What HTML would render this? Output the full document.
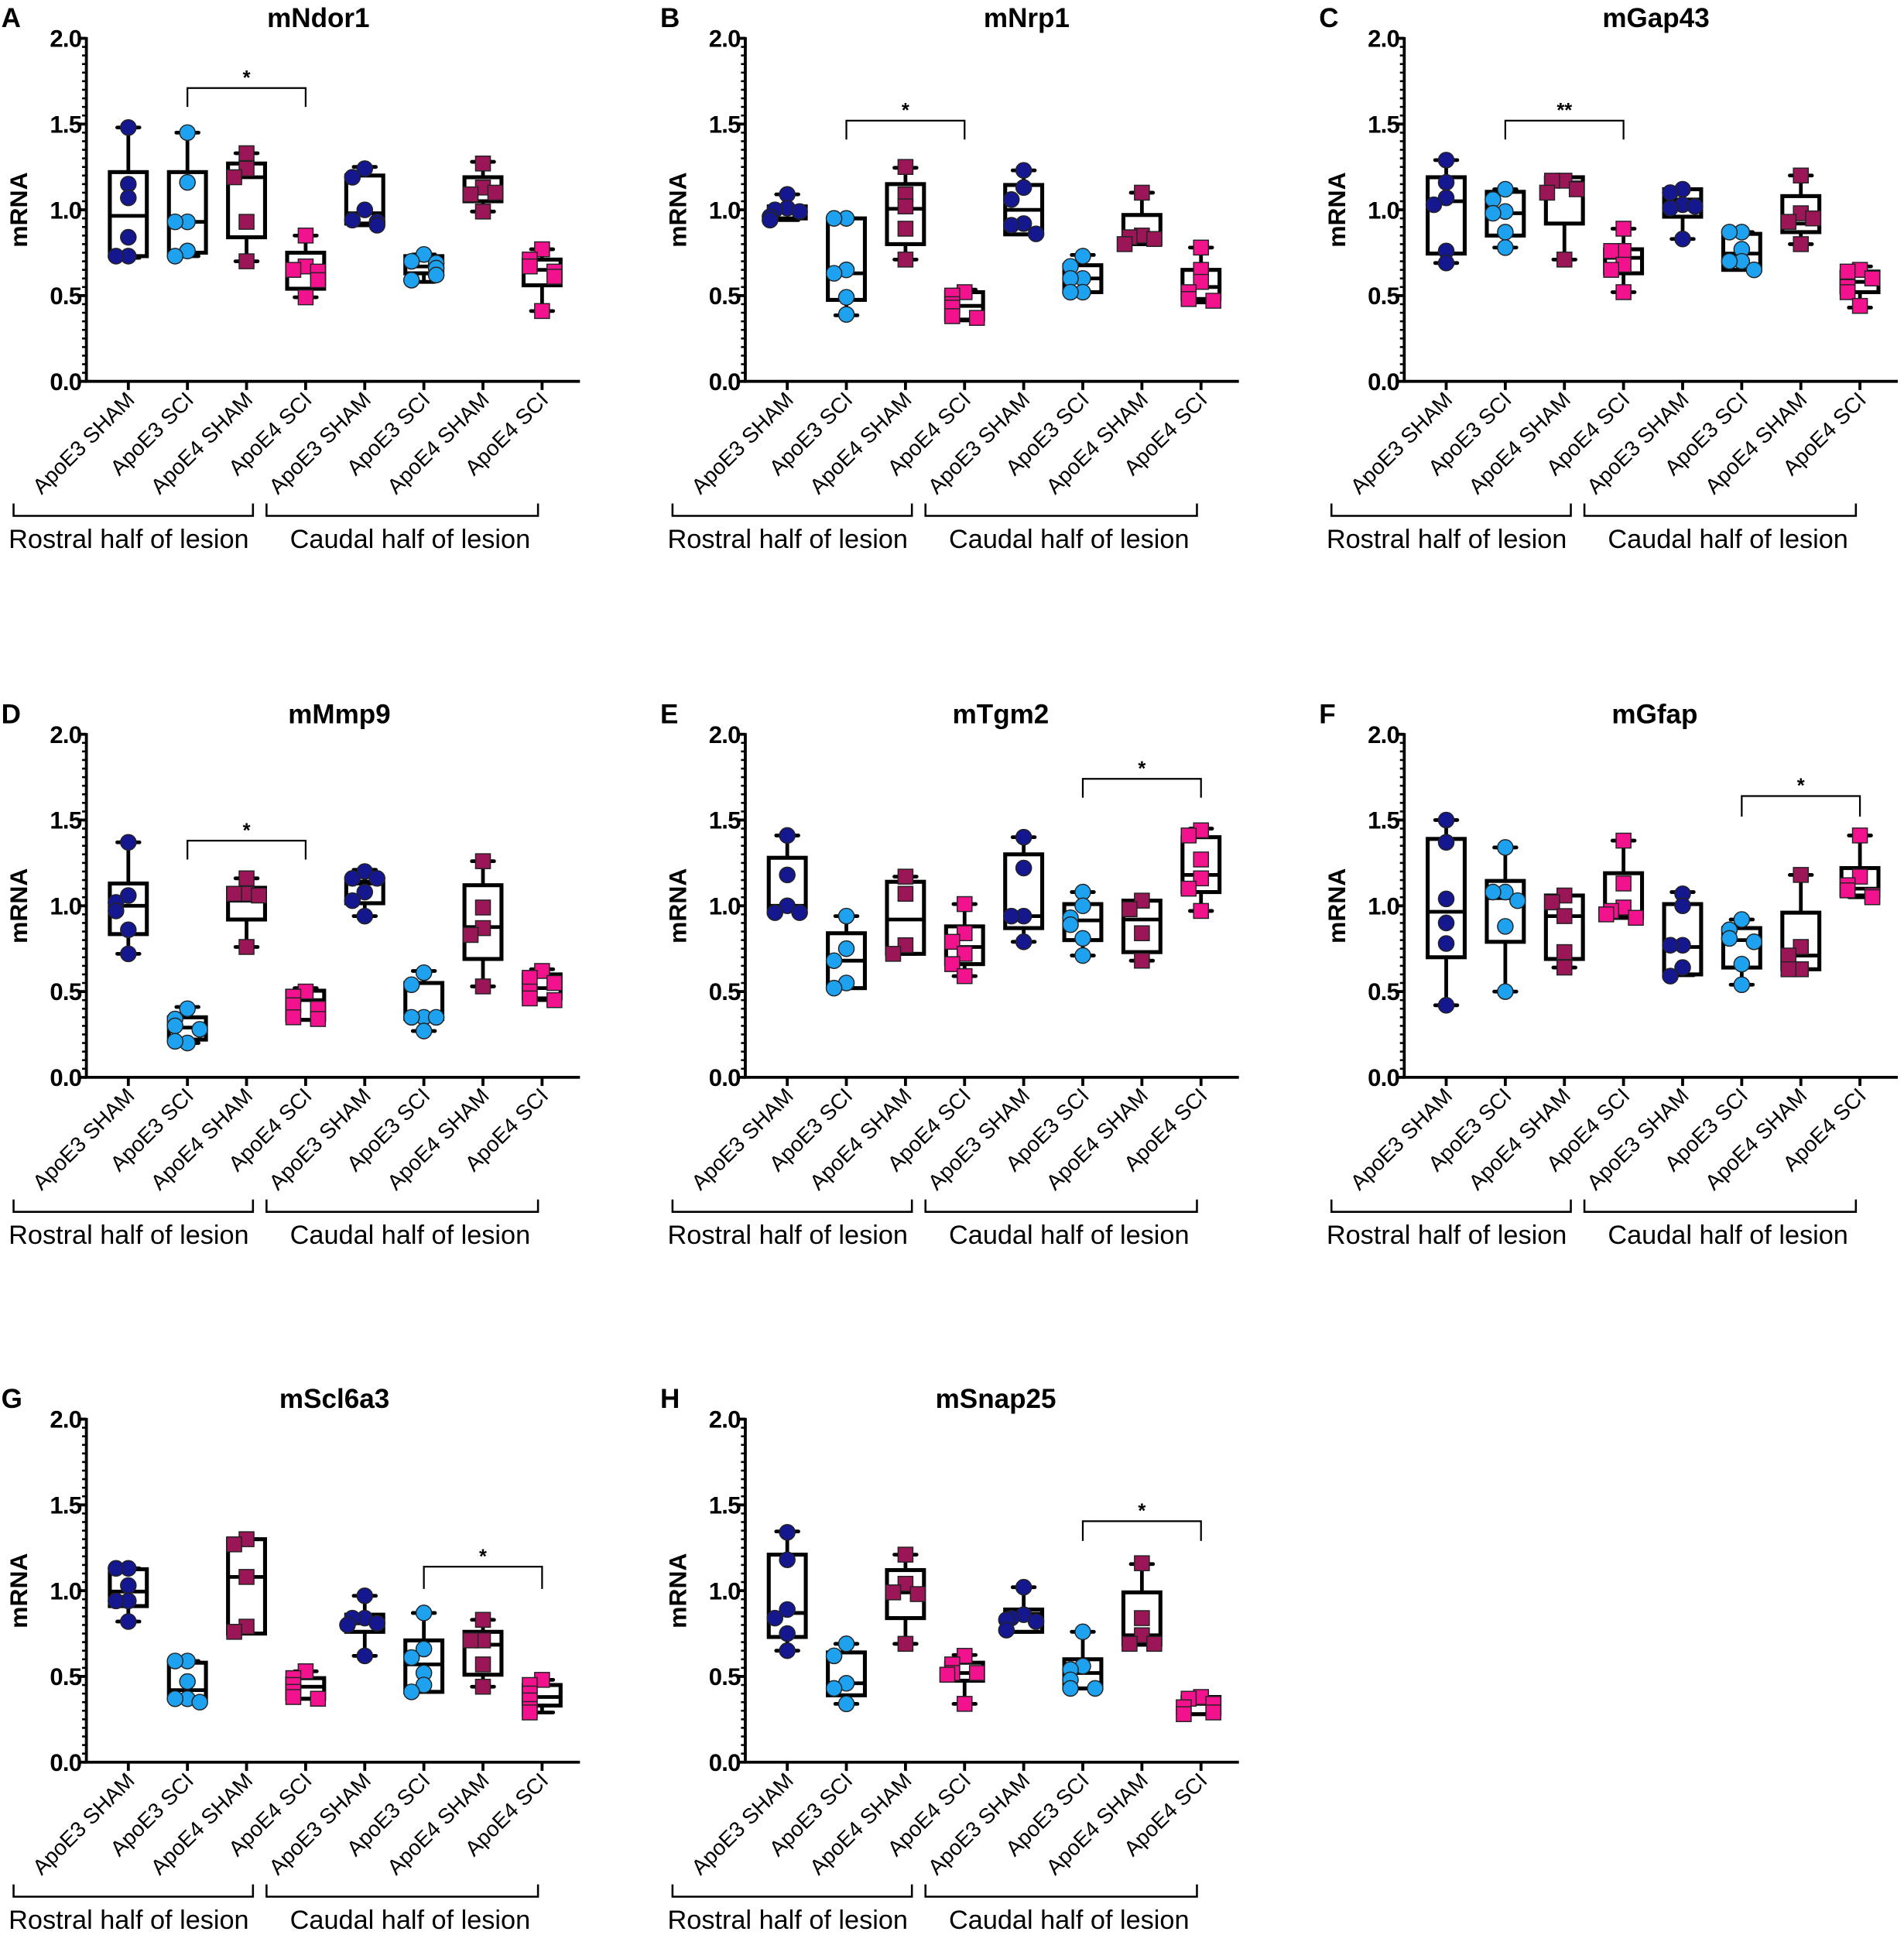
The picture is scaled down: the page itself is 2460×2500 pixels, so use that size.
<!DOCTYPE html>
<html><head><meta charset="utf-8"><style>
html,body{margin:0;padding:0;background:#fff}
svg{display:block}
text{font-family:"Liberation Sans",Arial,sans-serif}
</style></head><body>
<svg id="fig" width="2460" height="2500" viewBox="0 0 1543 1568" xmlns="http://www.w3.org/2000/svg"></svg>
<script>
const categories = ["ApoE3 SHAM","ApoE3 SCI","ApoE4 SHAM","ApoE4 SCI","ApoE3 SHAM","ApoE3 SCI","ApoE4 SHAM","ApoE4 SCI"];
const yTicks = [0,0.5,1.0,1.5,2.0];
const yTickLabels = ["0.0","0.5","1.0","1.5","2.0"];
const panelLetters = ["A","B","C","D","E","F","G","H"];
const panelTitles = ["mNdor1","mNrp1","mGap43","mMmp9","mTgm2","mGfap","mScl6a3","mSnap25"];
// box stats per panel: [min,q1,median,q3,max] for each category
const statsA = [[0.72,0.73,0.965,1.22,1.48],[0.73,0.75,0.93,1.22,1.45],[0.70,0.84,1.19,1.27,1.33],[0.49,0.54,0.65,0.75,0.85],[0.91,0.92,0.98,1.20,1.25],[0.58,0.63,0.67,0.73,0.74],[0.99,1.05,1.10,1.19,1.28],[0.41,0.56,0.65,0.71,0.77]];
const statsB = [[0.94,0.95,0.99,1.02,1.09],[0.385,0.475,0.63,0.95,0.95],[0.71,0.80,1.006,1.15,1.245],[0.355,0.36,0.44,0.52,0.535],[0.857,0.857,1.0,1.145,1.23],[0.52,0.52,0.60,0.677,0.737],[0.80,0.80,0.837,0.97,1.10],[0.46,0.48,0.55,0.65,0.78]];
const statsC = [[0.69,0.745,1.05,1.19,1.29],[0.78,0.85,0.98,1.105,1.12],[0.71,0.92,1.16,1.19,1.19],[0.52,0.63,0.72,0.77,0.89],[0.83,0.96,1.06,1.12,1.12],[0.65,0.65,0.745,0.86,0.87],[0.80,0.87,0.92,1.08,1.20],[0.43,0.52,0.58,0.64,0.67]];
const statsD = [[0.72,0.835,1.00,1.13,1.37],[0.20,0.22,0.29,0.35,0.41],[0.76,0.92,1.03,1.105,1.16],[0.335,0.335,0.45,0.505,0.52],[0.94,1.015,1.13,1.14,1.21],[0.27,0.34,0.34,0.55,0.62],[0.53,0.69,0.876,1.12,1.26],[0.45,0.46,0.52,0.60,0.63]];
const statsE = [[0.97,0.97,1.00,1.28,1.41],[0.52,0.52,0.68,0.84,0.94],[0.72,0.72,0.92,1.14,1.17],[0.59,0.66,0.76,0.88,1.01],[0.79,0.87,0.94,1.30,1.40],[0.71,0.80,0.915,1.01,1.08],[0.68,0.73,0.92,1.03,1.03],[0.97,1.08,1.18,1.40,1.45]];
const statsF = [[0.42,0.70,0.965,1.39,1.50],[0.50,0.79,1.045,1.145,1.34],[0.64,0.69,0.94,1.06,1.06],[0.93,0.93,0.95,1.19,1.38],[0.595,0.60,0.76,1.01,1.08],[0.54,0.64,0.80,0.87,0.92],[0.63,0.63,0.71,0.96,1.18],[1.05,1.06,1.10,1.22,1.41]];
const statsG = [[0.82,0.91,0.995,1.125,1.13],[0.35,0.37,0.42,0.58,0.59],[0.75,0.75,1.08,1.30,1.30],[0.37,0.37,0.44,0.49,0.53],[0.62,0.76,0.81,0.86,0.97],[0.41,0.41,0.57,0.71,0.87],[0.44,0.51,0.685,0.76,0.83],[0.29,0.33,0.38,0.45,0.48]];
const statsH = [[0.65,0.73,0.87,1.21,1.345],[0.34,0.39,0.46,0.64,0.69],[0.69,0.84,0.99,1.12,1.21],[0.34,0.475,0.52,0.58,0.625],[0.76,0.76,0.865,0.89,1.02],[0.43,0.43,0.52,0.60,0.76],[0.685,0.685,0.74,0.99,1.155],[0.28,0.28,0.34,0.38,0.38]];
// individual animal values
const pointsA = [[1.48,1.15,1.07,0.84,0.73,0.73],[1.45,1.16,0.93,0.93,0.76,0.73],[1.33,1.24,1.19,0.93,0.70],[0.85,0.67,0.65,0.64,0.59,0.49],[1.24,1.19,1.00,0.94,0.93,0.91],[0.74,0.70,0.69,0.66,0.62,0.59],[1.27,1.13,1.09,1.10,0.99],[0.77,0.71,0.67,0.64,0.61,0.41]];
const pointsB = [[1.09,1.01,1.00,0.99,0.96,0.94],[0.95,0.95,0.65,0.63,0.49,0.39],[1.25,1.09,1.02,0.89,0.71],[0.52,0.50,0.45,0.43,0.38,0.37],[1.23,1.13,1.06,0.92,0.91,0.86],[0.73,0.67,0.60,0.60,0.52,0.52],[1.10,0.85,0.84,0.83,0.80],[0.78,0.65,0.58,0.52,0.48,0.47]];
const pointsC = [[1.29,1.16,1.07,1.03,0.76,0.69],[1.12,1.06,0.99,0.98,0.87,0.78],[1.17,1.17,1.12,1.10,0.71],[0.89,0.76,0.76,0.68,0.65,0.52],[1.12,1.10,1.03,1.01,1.02,0.83],[0.87,0.87,0.77,0.70,0.70,0.65],[1.20,0.98,0.93,0.95,0.80],[0.65,0.64,0.60,0.55,0.52,0.44]];
const pointsD = [[1.37,1.06,1.02,0.97,0.86,0.72],[0.40,0.34,0.30,0.28,0.20,0.21],[1.16,1.07,1.07,1.06,0.76],[0.50,0.47,0.42,0.40,0.35,0.34],[1.20,1.16,1.16,1.08,1.03,0.94],[0.61,0.54,0.35,0.35,0.35,0.27],[1.26,0.99,0.87,0.83,0.53],[0.62,0.58,0.55,0.50,0.46,0.45]];
const pointsE = [[1.41,1.18,1.00,0.96,0.96],[0.94,0.75,0.68,0.55,0.52],[1.17,1.07,0.77,0.72],[1.01,0.84,0.79,0.72,0.66,0.59],[1.40,1.22,0.94,0.94,0.79],[1.08,1.00,0.93,0.89,0.81,0.71],[1.03,0.98,0.84,0.68],[1.44,1.41,1.27,1.16,1.10,0.97]];
const pointsF = [[1.50,1.37,1.04,0.90,0.78,0.42],[1.34,1.08,1.08,1.03,0.88,0.50],[1.06,1.02,0.94,0.73,0.64],[1.38,1.13,0.99,0.97,0.93,0.95],[1.07,1.00,0.77,0.77,0.64,0.59],[0.92,0.86,0.81,0.79,0.66,0.54],[1.18,0.76,0.71,0.63,0.63],[1.41,1.17,1.12,1.09,1.06,1.05]];
const pointsG = [[1.13,1.13,1.03,0.94,0.94,0.82],[0.59,0.59,0.47,0.37,0.37,0.35],[1.30,1.27,1.08,0.79,0.76],[0.53,0.49,0.45,0.41,0.38,0.37],[0.97,0.84,0.84,0.81,0.80,0.62],[0.87,0.66,0.61,0.52,0.45,0.41],[0.83,0.71,0.71,0.57,0.44],[0.48,0.45,0.40,0.36,0.31,0.29]];
const pointsH = [[1.34,1.18,0.89,0.84,0.75,0.65],[0.69,0.62,0.46,0.43,0.34],[1.21,1.04,0.99,0.98,0.69],[0.62,0.57,0.52,0.52,0.51,0.34],[1.02,0.86,0.84,0.82,0.83,0.77],[0.76,0.56,0.54,0.48,0.43,0.43],[1.16,0.84,0.74,0.69,0.69],[0.38,0.37,0.34,0.32,0.29,0.28]];
// significance: [fromCat, toCat, barValue, legValue, label]
const sigA = [1,3,1.71,1.60,"*"];
const sigB = [1,3,1.52,1.41,"*"];
const sigC = [1,3,1.52,1.41,"**"];
const sigD = [1,3,1.38,1.27,"*"];
const sigE = [5,7,1.74,1.63,"*"];
const sigF = [5,7,1.64,1.52,"*"];
const sigG = [5,7,1.14,1.01,"*"];
const sigH = [5,7,1.405,1.29,"*"];

const allStats=[statsA,statsB,statsC,statsD,statsE,statsF,statsG,statsH];
const allPoints=[pointsA,pointsB,pointsC,pointsD,pointsE,pointsF,pointsG,pointsH];
const allSig=[sigA,sigB,sigC,sigD,sigE,sigF,sigG,sigH];
const fills=["#15178f","#1ea2f0","#9b1656","#f2128e"];
const NS="http://www.w3.org/2000/svg";
const svg=document.getElementById("fig");
function mk(tag,attrs,parent,txt){const e=document.createElementNS(NS,tag);for(const k in attrs)e.setAttribute(k,attrs[k]);if(txt!==undefined)e.textContent=txt;(parent||svg).appendChild(e);return e;}
const colX=[0,534,1068], rowY=[0,564,1119];
const titleX=[258,298,274,275,277,273,271,273];
for(let p=0;p<8;p++){
  const ox=colX[p%3], oy=rowY[Math.floor(p/3)];
  const g=mk("g",{transform:`translate(${ox},${oy})`});
  
  
  const yS=v=>309-v*139;
  const xS=i=>104+47.9*i;
  const L=mk("text",{x:1,y:22,"font-size":22,"font-weight":"bold"},g,panelLetters[p]);
  
  
  const T=mk("text",{x:titleX[p],y:22,"font-size":22,"font-weight":"bold","text-anchor":"middle"},g,panelTitles[p]);
  
  
  const YL=mk("text",{x:0,y:0,"font-size":20,"font-weight":"bold","text-anchor":"middle",transform:`translate(22,170) rotate(-90)`},g,"mRNA");
  
  
  const ax=mk("g",{stroke:"#000","stroke-width":2.4},g);
  
  
  mk("line",{x1:70,y1:yS(2)-1,x2:70,y2:yS(0)+1},ax);
  mk("line",{x1:69,y1:yS(0),x2:470,y2:yS(0)},ax);
  for(let k=0;k<=40;k++){const v=k*0.05;const maj=k%10===0;mk("line",{x1:maj?64:66.5,x2:70,y1:yS(v),y2:yS(v),"stroke-width":maj?2.4:1.6},ax);}
  yTicks.forEach((v,i)=>{const t=mk("text",{x:66,y:yS(v)+7,"font-size":19.5,"font-weight":"bold","text-anchor":"end","letter-spacing":"-0.5"},g,yTickLabels[i]);
    
    });
  categories.forEach((c,i)=>{
    mk("line",{x1:xS(i),x2:xS(i),y1:yS(0),y2:yS(0)+7,stroke:"#000","stroke-width":2.4},g);
    const t=mk("text",{x:0,y:0,"font-size":17.5,"text-anchor":"end",transform:`translate(${xS(i)+6},${yS(0)+16}) rotate(-45)`},g,c);
    
    
  });
  const br=mk("g",{stroke:"#000","stroke-width":1.6,fill:"none"},g);
  
  
  mk("polyline",{points:"11,408 11,418 205,418 205,408"},br);
  mk("polyline",{points:"216,408 216,418 436,418 436,408"},br);
  const r1=mk("text",{x:7,y:444,"font-size":21.5},g,"Rostral half of lesion");
  
  
  const r2=mk("text",{x:235,y:444,"font-size":21.5},g,"Caudal half of lesion");
  
  
  const st=allStats[p], pts=allPoints[p];
  st.forEach((s,i)=>{
    const cx=xS(i);
    const bg=mk("g",{},g);
    
    
    mk("line",{x1:cx,x2:cx,y1:yS(s[4]),y2:yS(s[3]),stroke:"#000","stroke-width":3},bg);
    mk("line",{x1:cx,x2:cx,y1:yS(s[1]),y2:yS(s[0]),stroke:"#000","stroke-width":3},bg);
    mk("line",{x1:cx-9,x2:cx+9,y1:yS(s[4]),y2:yS(s[4]),stroke:"#000","stroke-width":3,"stroke-linecap":"round"},bg);
    mk("line",{x1:cx-9,x2:cx+9,y1:yS(s[0]),y2:yS(s[0]),stroke:"#000","stroke-width":3,"stroke-linecap":"round"},bg);
    mk("rect",{x:cx-15,y:yS(s[3]),width:30,height:Math.max(0.5,yS(s[1])-yS(s[3])),fill:"#fff",stroke:"#000","stroke-width":3.2},bg);
    mk("line",{x1:cx-15,x2:cx+15,y1:yS(s[2]),y2:yS(s[2]),stroke:"#000","stroke-width":3},bg);
    const offs=[0,-10,10,-14,14,0];
    const placed=[];
    pts[i].forEach(v=>{
      const n=placed.filter(u=>Math.abs(u-v)<0.07).length;
      placed.push(v);
      const px=cx+offs[n%offs.length], py=yS(v);
      const col=fills[i%4];
      let m;
      if(i%4<2) m=mk("circle",{cx:px,cy:py,r:6.3,fill:col,stroke:"#222","stroke-width":0.9},bg);
      else m=mk("rect",{x:px-6,y:py-6,width:12,height:12,fill:col,stroke:"#222","stroke-width":0.9},bg);
      
      
    });
  });
  const sg=allSig[p];
  const sgG=mk("g",{},g);
  
  
  mk("polyline",{points:`${xS(sg[0])},${yS(sg[3])} ${xS(sg[0])},${yS(sg[2])} ${xS(sg[1])},${yS(sg[2])} ${xS(sg[1])},${yS(sg[3])}`,fill:"none",stroke:"#000","stroke-width":1.4},sgG);
  mk("text",{x:(xS(sg[0])+xS(sg[1]))/2,y:yS(sg[2])-3,"font-size":16,"font-weight":"bold","text-anchor":"middle"},sgG,sg[4]);
}
</script>
</body></html>
